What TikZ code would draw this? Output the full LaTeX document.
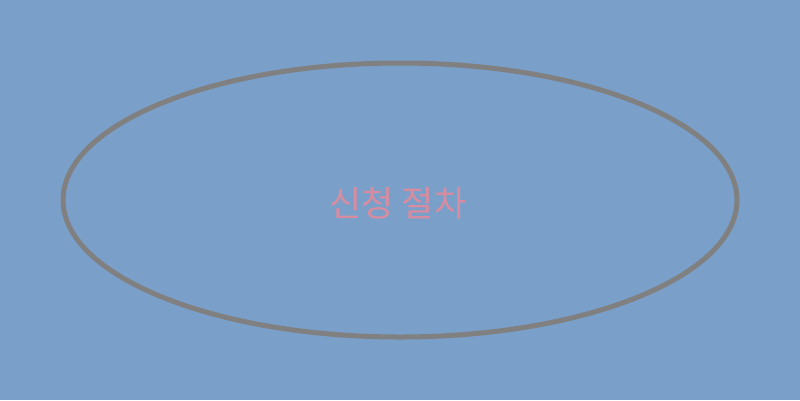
\documentclass[tikz,border=0pt]{standalone}
\usepackage{fontspec}
\newfontfamily\cjk{Noto Sans CJK KR}
\definecolor{bgblue}{HTML}{7AA0CA}
\definecolor{rimgray}{HTML}{808080}
\definecolor{labelpink}{HTML}{D98CA0}
\tikzset{every picture/.style={x=1pt,y=-1pt}}
\begin{document}
\begin{tikzpicture}
		\fill[bgblue] (0,0) rectangle (800,400);
		\useasboundingbox (0,0) rectangle (800,400);
		\coordinate (O) at (400,200);
		\draw[rimgray, line width=5pt] (O) ellipse [x radius=337, y radius=137];
		\node[text=labelpink, font=\cjk\fontsize{35}{42}\selectfont] (title) at (398,203) {신청 절차};
\end{tikzpicture}
\end{document}
